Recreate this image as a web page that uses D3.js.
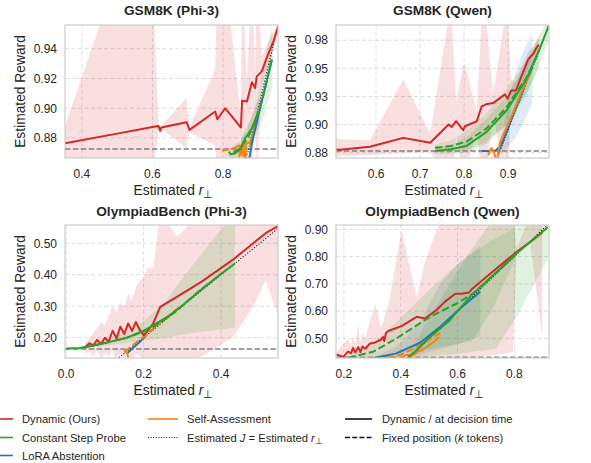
<!DOCTYPE html>
<html>
  <head>
    <meta charset="utf-8" />
    <script src="https://d3js.org/d3.v7.min.js"></script>
    <style>
      body { margin: 0; background: #fff; }
      text { font-family: "Liberation Sans", Arial, sans-serif; fill: #262626; }
    </style>
  </head>
  <body>
    <svg id="viz" width="591" height="463"></svg>
    <script>
      // ---- data ----
      // GSM8K (Phi-3)
      var p1RedX = [0.352, 0.50, 0.60, 0.617, 0.622, 0.625, 0.697, 0.705, 0.778, 0.784, 0.806, 0.851, 0.854, 0.868, 0.882, 0.891, 0.896, 0.910, 0.924, 0.943, 0.957];
      var p1RedY = [0.8764, 0.8829, 0.8873, 0.8881, 0.8847, 0.8870, 0.8906, 0.8854, 0.8978, 0.8926, 0.9000, 0.8870, 0.9050, 0.9045, 0.9174, 0.9136, 0.9214, 0.9248, 0.9339, 0.9450, 0.9552];
      var p1RedLo = [0.850, 0.850, 0.850, 0.887, 0.884, 0.886, 0.873, 0.884, 0.875, 0.850, 0.850, 0.880, 0.850, 0.890, 0.850, 0.900, 0.850, 0.915, 0.925, 0.938, 0.953];
      var p1RedHi = [0.888, 0.990, 0.990, 0.889, 0.886, 0.888, 0.907, 0.887, 0.926, 0.990, 0.990, 0.894, 0.990, 0.918, 0.990, 0.925, 0.990, 0.935, 0.942, 0.952, 0.957];
      var p1GreenX = [0.816, 0.822, 0.835, 0.849, 0.863, 0.882, 0.901];
      var p1GreenY = [0.8707, 0.8690, 0.8697, 0.8724, 0.8798, 0.8866, 0.8978];
      var p1GreenLo = [0.868, 0.866, 0.866, 0.868, 0.874, 0.880, 0.889];
      var p1GreenHi = [0.873, 0.872, 0.874, 0.878, 0.886, 0.894, 0.907];
      var p1GreenDashX = [0.830, 0.850, 0.870, 0.890, 0.905, 0.920, 0.940];
      var p1GreenDashY = [0.8705, 0.8730, 0.8800, 0.8900, 0.9000, 0.9140, 0.9350];
      var p1GreenDashLo = [0.866, 0.868, 0.873, 0.880, 0.888, 0.898, 0.915];
      var p1GreenDashHi = [0.875, 0.878, 0.887, 0.900, 0.915, 0.935, 0.956];
      var p1BlueX = [0.870, 0.882, 0.906, 0.939];
      var p1BlueY = [0.860, 0.8764, 0.901, 0.9327];
      var p1OrangeX = [0.845, 0.848, 0.853, 0.857, 0.862, 0.866, 0.872, 0.878, 0.884, 0.892, 0.897, 0.900];
      var p1OrangeY = [0.860, 0.875, 0.868, 0.877, 0.862, 0.876, 0.877, 0.876, 0.882, 0.888, 0.894, 0.895];
      var p1OrangeDashX = [0.797, 0.820, 0.840, 0.855];
      var p1OrangeDashY = [0.8714, 0.8725, 0.8740, 0.8760];

      // GSM8K (Qwen)
      var p2RedX = [0.509, 0.518, 0.586, 0.662, 0.723, 0.765, 0.772, 0.782, 0.798, 0.802, 0.829, 0.840, 0.850, 0.866, 0.893, 0.899, 0.907, 0.918, 0.931, 0.946, 0.957, 0.965, 0.970];
      var p2RedY = [0.8829, 0.8826, 0.8853, 0.8932, 0.8888, 0.9050, 0.9030, 0.9080, 0.9000, 0.9035, 0.9080, 0.9212, 0.9230, 0.9241, 0.9318, 0.9280, 0.9353, 0.9353, 0.9485, 0.9632, 0.9677, 0.9735, 0.9760];
      var p2RedLo = [0.876, 0.877, 0.878, 0.880, 0.881, 0.860, 0.860, 0.895, 0.860, 0.860, 0.900, 0.860, 0.860, 0.914, 0.860, 0.860, 0.925, 0.927, 0.940, 0.955, 0.961, 0.968, 0.972];
      var p2RedHi = [0.893, 0.892, 0.891, 0.945, 0.897, 1.000, 1.000, 0.925, 0.958, 0.958, 0.916, 1.000, 1.000, 0.932, 1.000, 1.000, 0.945, 0.943, 0.956, 0.970, 0.974, 0.979, 0.980];
      var p2GreenX = [0.734, 0.770, 0.805, 0.851, 0.897, 0.942, 0.973, 0.993];
      var p2GreenY = [0.8815, 0.8830, 0.8859, 0.8985, 0.9177, 0.9456, 0.9735, 0.9935];
      var p2GreenLo = [0.879, 0.879, 0.880, 0.888, 0.905, 0.933, 0.960, 0.980];
      var p2GreenHi = [0.884, 0.887, 0.893, 0.910, 0.930, 0.958, 0.986, 1.000];
      var p2GreenDashX = [0.734, 0.770, 0.805, 0.851, 0.897, 0.942, 0.970];
      var p2GreenDashY = [0.8844, 0.8860, 0.8897, 0.9015, 0.9206, 0.9470, 0.9700];
      var p2GreenDashLo = [0.881, 0.881, 0.882, 0.890, 0.905, 0.932, 0.955];
      var p2GreenDashHi = [0.887, 0.891, 0.899, 0.915, 0.937, 0.962, 0.985];
      var p2BlueX = [0.877, 0.885, 0.900, 0.920, 0.940, 0.955];
      var p2BlueY = [0.8795, 0.8870, 0.9020, 0.9220, 0.9420, 0.9560];
      var p2BlueLo = [0.878, 0.880, 0.885, 0.895, 0.910, 0.925];
      var p2BlueHi = [0.881, 0.895, 0.925, 0.955, 0.975, 0.985];
      var p2BlueDashX = [0.840, 0.860, 0.872, 0.880, 0.888];
      var p2BlueDashY = [0.8815, 0.8815, 0.8820, 0.8850, 0.8900];
      var p2OrangeX = [0.855, 0.862, 0.868, 0.874, 0.882, 0.904, 0.927, 0.950];
      var p2OrangeY = [0.878, 0.884, 0.880, 0.872, 0.8897, 0.9088, 0.931, 0.950];

      // OlympiadBench (Phi-3)
      var p3RedX = [0.050, 0.060, 0.070, 0.080, 0.090, 0.100, 0.110, 0.120, 0.130, 0.140, 0.150, 0.160, 0.170, 0.180, 0.190, 0.200, 0.210, 0.225, 0.243, 0.286, 0.350, 0.430, 0.483, 0.515, 0.548];
      var p3RedY = [0.171, 0.182, 0.176, 0.193, 0.180, 0.200, 0.188, 0.222, 0.198, 0.235, 0.212, 0.245, 0.222, 0.250, 0.225, 0.208, 0.220, 0.246, 0.298, 0.330, 0.378, 0.447, 0.500, 0.532, 0.555];
      var p3RedLo = [0.150, 0.155, 0.140, 0.160, 0.130, 0.150, 0.140, 0.160, 0.120, 0.150, 0.130, 0.160, 0.120, 0.150, 0.140, 0.130, 0.130, 0.120, 0.120, 0.120, 0.140, 0.200, 0.298, 0.383, 0.267];
      var p3RedHi = [0.185, 0.200, 0.215, 0.230, 0.250, 0.240, 0.270, 0.300, 0.280, 0.310, 0.300, 0.340, 0.320, 0.360, 0.380, 0.390, 0.420, 0.420, 0.600, 0.520, 0.600, 0.600, 0.600, 0.600, 0.600];
      var p3GreenX = [0.000, 0.035, 0.070, 0.110, 0.157, 0.200, 0.260, 0.300, 0.346, 0.397, 0.436];
      var p3GreenY = [0.166, 0.167, 0.175, 0.186, 0.200, 0.222, 0.265, 0.302, 0.350, 0.400, 0.436];
      var p3GreenLo = [0.164, 0.165, 0.170, 0.176, 0.183, 0.190, 0.200, 0.210, 0.218, 0.226, 0.232];
      var p3GreenHi = [0.168, 0.170, 0.180, 0.196, 0.218, 0.252, 0.320, 0.390, 0.460, 0.540, 0.600];
      var p3GreenDashX = [0.040, 0.100, 0.160, 0.220, 0.280, 0.340, 0.400];
      var p3GreenDashY = [0.167, 0.183, 0.201, 0.229, 0.280, 0.345, 0.403];
      var p3BlueX = [0.157, 0.170, 0.190, 0.207];
      var p3BlueY = [0.150, 0.165, 0.186, 0.208];
      var p3OrangeX = [0.150, 0.158, 0.162, 0.165];
      var p3OrangeY = [0.160, 0.150, 0.130, 0.110];
      var p3OrangeDashX = [0.150, 0.200, 0.250, 0.300];
      var p3OrangeDashY = [0.155, 0.203, 0.255, 0.304];

      // OlympiadBench (Qwen)
      var p4RedX = [0.174, 0.198, 0.215, 0.225, 0.232, 0.240, 0.250, 0.258, 0.265, 0.275, 0.290, 0.310, 0.330, 0.338, 0.342, 0.348, 0.356, 0.403, 0.456, 0.485, 0.526, 0.555, 0.592, 0.615, 0.640, 0.650, 0.738, 0.795, 0.808, 0.855, 0.898];
      var p4RedY = [0.441, 0.432, 0.452, 0.445, 0.465, 0.448, 0.468, 0.450, 0.470, 0.462, 0.480, 0.485, 0.495, 0.505, 0.490, 0.520, 0.527, 0.545, 0.579, 0.573, 0.604, 0.634, 0.664, 0.664, 0.668, 0.680, 0.757, 0.806, 0.818, 0.853, 0.888];
      var p4RedLo = [0.420, 0.420, 0.420, 0.420, 0.420, 0.420, 0.420, 0.420, 0.420, 0.420, 0.420, 0.420, 0.420, 0.420, 0.420, 0.420, 0.420, 0.420, 0.420, 0.420, 0.420, 0.420, 0.420, 0.420, 0.420, 0.430, 0.440, 0.450, 0.810, 0.860, 0.506];
      var p4RedHi = [0.450, 0.480, 0.500, 0.470, 0.510, 0.470, 0.550, 0.480, 0.520, 0.500, 0.560, 0.627, 0.540, 0.560, 0.580, 0.600, 0.620, 0.897, 0.650, 0.780, 0.897, 0.950, 0.950, 0.950, 0.950, 0.950, 0.950, 0.950, 0.830, 0.950, 0.950];
      var p4GreenX = [0.426, 0.450, 0.491, 0.573, 0.644, 0.735, 0.808, 0.918];
      var p4GreenY = [0.432, 0.451, 0.494, 0.567, 0.653, 0.742, 0.812, 0.908];
      var p4GreenLo = [0.428, 0.430, 0.435, 0.440, 0.450, 0.462, 0.580, 0.790];
      var p4GreenHi = [0.440, 0.480, 0.560, 0.700, 0.820, 0.950, 0.950, 0.950];
      var p4GreenDashX = [0.215, 0.303, 0.385, 0.503, 0.597, 0.651, 0.720, 0.803];
      var p4GreenDashY = [0.429, 0.451, 0.500, 0.579, 0.628, 0.662, 0.725, 0.806];
      var p4GreenDashLo = [0.427, 0.430, 0.440, 0.460, 0.480, 0.490, 0.600, 0.790];
      var p4GreenDashHi = [0.432, 0.480, 0.560, 0.680, 0.770, 0.810, 0.860, 0.906];
      var p4BlueX = [0.303, 0.385, 0.468, 0.538, 0.609, 0.680];
      var p4BlueY = [0.427, 0.445, 0.484, 0.542, 0.610, 0.671];
      var p4BlueLo = [0.425, 0.430, 0.440, 0.460, 0.480, 0.510];
      var p4BlueHi = [0.430, 0.470, 0.560, 0.700, 0.780, 0.840];
      var p4OrangeX = [0.400, 0.420, 0.440, 0.460, 0.480, 0.500, 0.520, 0.535];
      var p4OrangeY = [0.428, 0.440, 0.435, 0.452, 0.460, 0.475, 0.490, 0.505];
      var p4OrangeDashX = [0.350, 0.400, 0.450, 0.500, 0.540];
      var p4OrangeDashY = [0.428, 0.440, 0.465, 0.495, 0.520];

      // axes
      var titles = ["GSM8K (Phi-3)", "GSM8K (Qwen)", "OlympiadBench (Phi-3)", "OlympiadBench (Qwen)"];
      var xDomains = [[0.352, 0.956], [0.509, 0.993], [-0.003, 0.547], [0.172, 0.922]];
      var yDomains = [[0.8665, 0.956], [0.8753, 0.9935], [0.1355, 0.558], [0.428, 0.916]];
      var xTickVals = [[0.4, 0.6, 0.8], [0.6, 0.7, 0.8, 0.9], [0.0, 0.2, 0.4], [0.2, 0.4, 0.6, 0.8]];
      var xTickLabels = [["0.4", "0.6", "0.8"], ["0.6", "0.7", "0.8", "0.9"], ["0.0", "0.2", "0.4"], ["0.2", "0.4", "0.6", "0.8"]];
      var yTickVals = [[0.88, 0.90, 0.92, 0.94], [0.88, 0.905, 0.93, 0.955, 0.98], [0.2, 0.3, 0.4, 0.5], [0.5, 0.6, 0.7, 0.8, 0.9]];
      var yTickLabels = [["0.88", "0.90", "0.92", "0.94"], ["0.88", "0.90", "0.93", "0.95", "0.98"], ["0.20", "0.30", "0.40", "0.50"], ["0.50", "0.60", "0.70", "0.80", "0.90"]];
      var baselines = [0.8725, 0.8815, 0.164, 0.431];

      var legendLabels = ["Dynamic (Ours)", "Constant Step Probe", "LoRA Abstention", "Self-Assessment"];

      var RED = "#d62728", GREEN = "#2ca02c", BLUE = "#1f77b4", ORANGE = "#ff7f0e";

      function s(x, y, color, dashed, lo, hi) {
        return { x: x, y: y, color: color, dashed: dashed, lo: lo, hi: hi };
      }

      var series = [
        [s(p1OrangeDashX, p1OrangeDashY, ORANGE, true), s(p1OrangeX, p1OrangeY, ORANGE, false),
         s(p1BlueX, p1BlueY, BLUE, false),
         s(p1GreenX, p1GreenY, GREEN, false, p1GreenLo, p1GreenHi), s(p1GreenDashX, p1GreenDashY, GREEN, true, p1GreenDashLo, p1GreenDashHi),
         s(p1RedX, p1RedY, RED, false, p1RedLo, p1RedHi)],
        [s(p2BlueDashX, p2BlueDashY, BLUE, true), s(p2BlueX, p2BlueY, BLUE, false, p2BlueLo, p2BlueHi),
         s(p2OrangeX, p2OrangeY, ORANGE, false),
         s(p2GreenX, p2GreenY, GREEN, false, p2GreenLo, p2GreenHi), s(p2GreenDashX, p2GreenDashY, GREEN, true, p2GreenDashLo, p2GreenDashHi),
         s(p2RedX, p2RedY, RED, false, p2RedLo, p2RedHi)],
        [s(p3BlueX, p3BlueY, BLUE, false),
         s(p3OrangeX, p3OrangeY, ORANGE, false), s(p3OrangeDashX, p3OrangeDashY, ORANGE, true),
         s(p3RedX, p3RedY, RED, false, p3RedLo, p3RedHi),
         s(p3GreenX, p3GreenY, GREEN, false, p3GreenLo, p3GreenHi), s(p3GreenDashX, p3GreenDashY, GREEN, true)],
        [s(p4OrangeX, p4OrangeY, ORANGE, false), s(p4OrangeDashX, p4OrangeDashY, ORANGE, true),
         s(p4BlueX, p4BlueY, BLUE, false, p4BlueLo, p4BlueHi),
         s(p4RedX, p4RedY, RED, false, p4RedLo, p4RedHi),
         s(p4GreenDashX, p4GreenDashY, GREEN, true, p4GreenDashLo, p4GreenDashHi),
         s(p4GreenX, p4GreenY, GREEN, false, p4GreenLo, p4GreenHi)]
      ];

      // layout
      var lefts = [65, 336, 65, 336];
      var tops = [25, 25, 225, 225];
      var pw = 213, ph = 133;

      var svg = d3.select("#viz");

      function xLabel(g, cx, y) {
        var t = g.append("text").attr("x", cx).attr("y", y)
          .attr("text-anchor", "middle").style("font-size", "13.8px");
        t.append("tspan").text("Estimated ");
        t.append("tspan").style("font-style", "italic").text("r");
        t.append("tspan").attr("dy", 3).style("font-size", "11px").text("\u22a5");
      }

      titles.forEach(function(title, i) {
        var g = svg.append("g").attr("transform", "translate(" + lefts[i] + "," + tops[i] + ")");
        var x = d3.scaleLinear().domain(xDomains[i]).range([0, pw]);
        var y = d3.scaleLinear().domain(yDomains[i]).range([ph, 0]);

        g.append("clipPath").attr("id", "clip" + i)
          .append("rect").attr("width", pw).attr("height", ph);

        // grid
        g.selectAll(".gx").data(xTickVals[i]).enter().append("line")
          .attr("x1", function(d) { return x(d); }).attr("x2", function(d) { return x(d); })
          .attr("y1", 0).attr("y2", ph)
          .attr("stroke", "#dedede").attr("stroke-width", 1).attr("stroke-dasharray", "4,2.5");
        g.selectAll(".gy").data(yTickVals[i]).enter().append("line")
          .attr("y1", function(d) { return y(d); }).attr("y2", function(d) { return y(d); })
          .attr("x1", 0).attr("x2", pw)
          .attr("stroke", "#dedede").attr("stroke-width", 1).attr("stroke-dasharray", "4,2.5");

        var plot = g.append("g").attr("clip-path", "url(#clip" + i + ")");

        var area = d3.area()
          .x(function(d) { return x(d[0]); })
          .y0(function(d) { return y(d[1]); })
          .y1(function(d) { return y(d[2]); });
        var line = d3.line()
          .x(function(d) { return x(d[0]); })
          .y(function(d) { return y(d[1]); });

        series[i].forEach(function(se) {
          if (!se.lo) return;
          var pts = se.x.map(function(v, k) { return [v, se.lo[k], se.hi[k]]; });
          plot.append("path").attr("d", area(pts))
            .attr("fill", se.color).attr("fill-opacity", 0.15).attr("stroke", "none");
        });

        // baseline
        plot.append("line").attr("x1", 0).attr("x2", pw)
          .attr("y1", y(baselines[i])).attr("y2", y(baselines[i]))
          .attr("stroke", "#808080").attr("stroke-width", 1.5).attr("stroke-dasharray", "5.5,2.4");

        // J = r diagonal
        var lo = Math.min(xDomains[i][0], yDomains[i][0]), hi = Math.max(xDomains[i][1], yDomains[i][1]);
        plot.append("path").attr("d", line([[lo, lo], [hi, hi]]))
          .attr("stroke", "#111").attr("stroke-width", 1.1).attr("stroke-dasharray", "1.1,1.8").attr("fill", "none");

        series[i].forEach(function(se) {
          var pts = se.x.map(function(v, k) { return [v, se.y[k]]; });
          plot.append("path").attr("d", line(pts))
            .attr("fill", "none").attr("stroke", se.color).attr("stroke-width", 2)
            .attr("stroke-linejoin", "round")
            .attr("stroke-dasharray", se.dashed ? "7.4,3.2" : null);
        });

        // frame
        g.append("rect").attr("width", pw).attr("height", ph)
          .attr("fill", "none").attr("stroke", "#cccccc").attr("stroke-width", 1.2);

        // tick labels
        g.selectAll(".xt").data(xTickVals[i]).enter().append("text")
          .attr("x", function(d) { return x(d); }).attr("y", ph + 20)
          .attr("text-anchor", "middle").style("font-size", "12px")
          .text(function(d, k) { return xTickLabels[i][k]; });
        g.selectAll(".yt").data(yTickVals[i]).enter().append("text")
          .attr("x", -8).attr("y", function(d) { return y(d) + 4.3; })
          .attr("text-anchor", "end").style("font-size", "12px")
          .text(function(d, k) { return yTickLabels[i][k]; });

        g.append("text").attr("x", pw / 2).attr("y", i < 2 ? -10 : -9)
          .attr("text-anchor", "middle").style("font-size", "13.7px").style("font-weight", "bold")
          .text(title);

        xLabel(g, pw / 2 + 2, ph + 37);

        g.append("text").attr("transform", "translate(-40," + (ph / 2) + ") rotate(-90)")
          .attr("text-anchor", "middle").style("font-size", "13.8px")
          .text("Estimated Reward");
      });

      // legend
      var leg = svg.append("g");
      var legColors = [RED, GREEN, BLUE, ORANGE];
      var legPos = [[-15, 13, 22, 419], [-15, 13, 22, 437.5], [-15, 13, 22, 455.5], [148, 178, 187, 419]];
      legendLabels.forEach(function(lab, k) {
        var p = legPos[k];
        leg.append("line").attr("x1", p[0]).attr("x2", p[1]).attr("y1", p[3]).attr("y2", p[3])
          .attr("stroke", legColors[k]).attr("stroke-width", 1.6);
        leg.append("text").attr("x", p[2]).attr("y", p[3] + 4).style("font-size", "11.2px").text(lab);
      });
      leg.append("line").attr("x1", 148).attr("x2", 178).attr("y1", 437.5).attr("y2", 437.5)
        .attr("stroke", "#111").attr("stroke-width", 1).attr("stroke-dasharray", "1,1.6");
      var jt = leg.append("text").attr("x", 187).attr("y", 441.5).style("font-size", "11.2px");
      jt.append("tspan").text("Estimated ");
      jt.append("tspan").style("font-style", "italic").text("J");
      jt.append("tspan").text(" = Estimated ");
      jt.append("tspan").style("font-style", "italic").text("r");
      jt.append("tspan").attr("dy", 2.5).style("font-size", "9px").text("\u22a5");

      leg.append("line").attr("x1", 345).attr("x2", 372).attr("y1", 419).attr("y2", 419)
        .attr("stroke", "#111").attr("stroke-width", 1.6);
      leg.append("text").attr("x", 382).attr("y", 423).style("font-size", "11.2px").text("Dynamic / at decision time");
      leg.append("line").attr("x1", 345).attr("x2", 372).attr("y1", 437.5).attr("y2", 437.5)
        .attr("stroke", "#111").attr("stroke-width", 1.6).attr("stroke-dasharray", "5,2.2");
      var ft = leg.append("text").attr("x", 382).attr("y", 441.5).style("font-size", "11.2px");
      ft.append("tspan").text("Fixed position (");
      ft.append("tspan").style("font-style", "italic").text("k");
      ft.append("tspan").text(" tokens)");
    </script>
  </body>
</html>
